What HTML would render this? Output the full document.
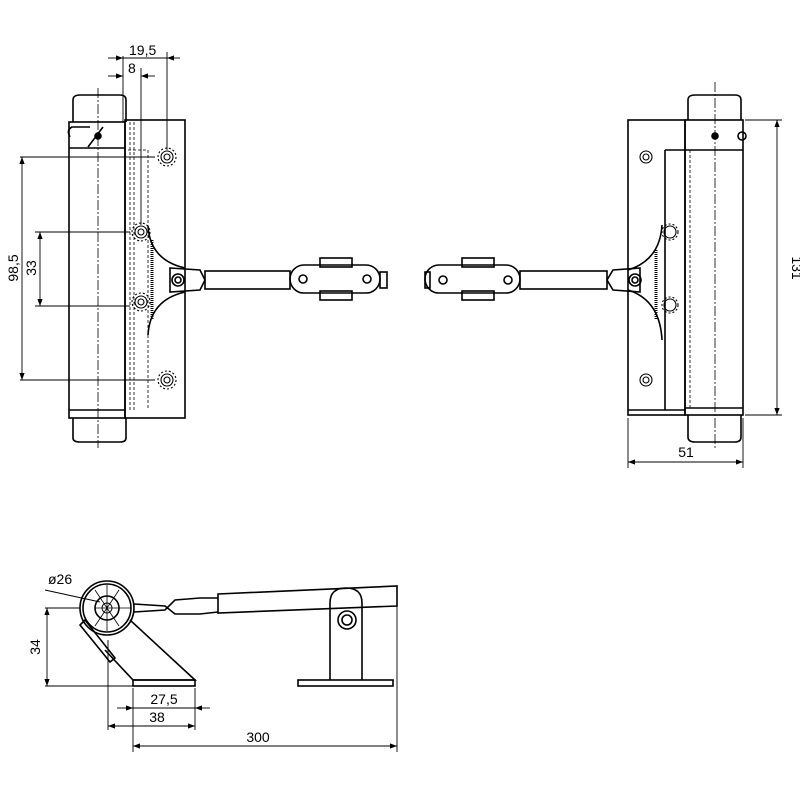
<!DOCTYPE html>
<html><head><style>body{margin:0;background:#fff}svg{display:block}text{font-family:"Liberation Sans",sans-serif;font-size:14px;fill:#000}</style></head><body>
<svg width="800" height="800" viewBox="0 0 800 800" xmlns="http://www.w3.org/2000/svg" fill="none" stroke="#000" stroke-width="1">
<defs>
<marker id="a" markerWidth="8" markerHeight="6" refX="8" refY="3" orient="auto-start-reverse"><path d="M0,0 L8,3 L0,6z" fill="#000" stroke="none"/></marker>
</defs>
<!-- LEFT VIEW -->
<g stroke-width="1.6">
<path d="M73,122 V100 Q73,95 80,95 H120 Q126,95 126,100 V122"/>
<path d="M73,418 V438 Q73,442 80,442 H120 Q126,442 126,438 V418"/>
<rect x="69" y="122" width="56" height="296"/>
<rect x="125" y="120" width="60" height="298"/>
<line x1="69" y1="148" x2="125" y2="148"/>
<line x1="69" y1="410" x2="125" y2="410"/>
<path d="M148,226 Q150,260 185,268 M148,335 Q150,300 185,292"/>
<path d="M170,268 L200,270 L205,280 L200,290 L170,292 Z"/>
<rect x="205" y="271" width="85" height="18"/>
<rect x="290" y="265" width="90" height="28" rx="14"/>
<rect x="320" y="258" width="32" height="9"/><rect x="320" y="291" width="32" height="9"/>
<rect x="380" y="272" width="7" height="16"/>
<circle cx="178" cy="280" r="6"/><circle cx="178" cy="280" r="3"/>
<circle cx="303" cy="279" r="4"/><circle cx="367" cy="279" r="4"/>
<path d="M70,137 Q66,130 72,127 L90,127 M88,147 L103,127"/>
<circle cx="98" cy="136" r="3" fill="#000"/>
</g>
<g stroke-width="1.1">
<circle cx="167" cy="157" r="6"/><circle cx="167" cy="157" r="3"/><circle cx="167" cy="157" r="9" stroke-dasharray="2,2"/>
<circle cx="141" cy="232" r="6"/><circle cx="141" cy="232" r="3"/><circle cx="141" cy="232" r="9" stroke-dasharray="2,2"/>
<circle cx="141" cy="302" r="6"/><circle cx="141" cy="302" r="3"/><circle cx="141" cy="302" r="9" stroke-dasharray="2,2"/>
<circle cx="167" cy="380" r="6"/><circle cx="167" cy="380" r="3"/><circle cx="167" cy="380" r="9" stroke-dasharray="2,2"/>
<line x1="98" y1="88" x2="98" y2="448" stroke-dasharray="10,2,2,2" stroke-width="0.8"/>
<path d="M130,122 V410 M134,122 V410 M148,150 V410 M128,150 H148" stroke-dasharray="3,2" stroke-width="0.8"/>
<path d="M152,240 V320" stroke-width="3" stroke-dasharray="1,1"/>
</g>
<g stroke-width="0.9">
<line x1="123" y1="56" x2="123" y2="122"/><line x1="141" y1="68" x2="141" y2="225"/><line x1="167" y1="52" x2="167" y2="150"/>
<line x1="108" y1="58" x2="123" y2="58" marker-end="url(#a)"/><line x1="123" y1="58" x2="167" y2="58"/><line x1="180" y1="58" x2="167" y2="58" marker-end="url(#a)"/>
<line x1="108" y1="76" x2="123" y2="76" marker-end="url(#a)"/><line x1="155" y1="76" x2="141" y2="76" marker-end="url(#a)"/>
<line x1="20" y1="157" x2="155" y2="157"/><line x1="20" y1="380" x2="155" y2="380"/>
<line x1="35" y1="232" x2="130" y2="232"/><line x1="35" y1="306" x2="130" y2="306"/>
<line x1="22" y1="157" x2="22" y2="380" marker-start="url(#a)" marker-end="url(#a)"/>
<line x1="40" y1="232" x2="40" y2="306" marker-start="url(#a)" marker-end="url(#a)"/>
</g>
<text x="129" y="55" stroke="none">19,5</text>
<text x="128" y="73" stroke="none">8</text>
<text x="18" y="268" stroke="none" text-anchor="middle" transform="rotate(-90 18 268)">98,5</text>
<text x="36" y="268" stroke="none" text-anchor="middle" transform="rotate(-90 36 268)">33</text>
<!-- RIGHT VIEW -->
<g stroke-width="1.6">
<path d="M688,120 V100 Q688,95 695,95 H735 Q741,95 741,100 V120"/>
<path d="M688,415 V437 Q688,442 695,442 H735 Q741,442 741,437 V415"/>
<rect x="628" y="120" width="57" height="295"/>
<rect x="685" y="120" width="58" height="295"/>
<line x1="685" y1="150" x2="743" y2="150"/><line x1="685" y1="408" x2="743" y2="408"/>
<path d="M665,150 H685 M665,150 V410 M628,410 H685"/>
<path d="M662,225 Q660,260 628,270 M662,340 Q660,300 628,290"/>
<path d="M640,268 L613,270 L607,280 L613,290 L640,292 Z"/>
<rect x="520" y="271" width="87" height="18"/>
<rect x="425" y="265" width="95" height="28" rx="14"/>
<rect x="462" y="258" width="32" height="9"/><rect x="462" y="291" width="32" height="9"/>
<rect x="425" y="272" width="5" height="16"/>
<circle cx="635" cy="280" r="6"/><circle cx="635" cy="280" r="3"/>
<circle cx="443" cy="280" r="4"/><circle cx="508" cy="280" r="4"/>
<circle cx="715" cy="136" r="3" fill="#000"/><circle cx="742" cy="136" r="4"/>
</g>
<g stroke-width="1.1">
<circle cx="646" cy="157" r="6"/><circle cx="646" cy="157" r="3"/>
<circle cx="670" cy="232" r="6"/><circle cx="670" cy="232" r="8" stroke-dasharray="2,2"/>
<circle cx="670" cy="305" r="6"/><circle cx="670" cy="305" r="8" stroke-dasharray="2,2"/>
<circle cx="646" cy="380" r="6"/><circle cx="646" cy="380" r="3"/>
<line x1="715" y1="82" x2="715" y2="450" stroke-dasharray="10,2,2,2" stroke-width="0.8"/>
<path d="M690,150 V408" stroke-dasharray="3,2" stroke-width="0.8"/>
<path d="M656,250 V320" stroke-width="3" stroke-dasharray="1,1"/>
</g>
<g stroke-width="0.9">
<line x1="745" y1="120" x2="782" y2="120"/><line x1="745" y1="415" x2="782" y2="415"/>
<line x1="777" y1="120" x2="777" y2="415" marker-start="url(#a)" marker-end="url(#a)"/>
<line x1="628" y1="418" x2="628" y2="468"/><line x1="743" y1="418" x2="743" y2="468"/>
<line x1="628" y1="462" x2="743" y2="462" marker-start="url(#a)" marker-end="url(#a)"/>
</g>
<text x="792" y="268" stroke="none" text-anchor="middle" transform="rotate(90 792 268)">131</text>
<text x="686" y="457" stroke="none" text-anchor="middle">51</text>
<!-- BOTTOM VIEW -->
<g stroke-width="1.6">
<circle cx="107" cy="608" r="27"/><circle cx="107" cy="608" r="24"/>
<circle cx="107" cy="608" r="12"/>
<path d="M130,620 L195,680 H133 L105,650"/>
<rect x="133" y="680" width="62" height="6"/>
<path d="M80,625 L110,662 L115,658 L85,620 Z"/>
<path d="M134,612 L165,610 L175,600 L200,598 L218,598 M134,604 L165,606 L175,614 L200,614 L218,612"/>
<path d="M218,594 L397,586 L397,606 L218,613 Z"/>
<path d="M330,680 V603 Q330,588 346,588 Q362,588 362,603 V680"/>
<circle cx="347" cy="620" r="9"/><circle cx="347" cy="620" r="5"/>
<rect x="298" y="680" width="95" height="6"/>
</g>
<g stroke-width="0.9">
<path d="M107,585 V631 M95,608 H131 M95,590 L119,626 M119,590 L95,626" stroke-width="0.8"/>
<circle cx="107" cy="608" r="5"/>
<line x1="45" y1="590" x2="100" y2="602"/>
<line x1="45" y1="608" x2="80" y2="608"/><line x1="45" y1="686" x2="133" y2="686"/>
<line x1="47" y1="608" x2="47" y2="686" marker-start="url(#a)" marker-end="url(#a)"/>
<line x1="108" y1="640" x2="108" y2="730"/><line x1="133" y1="688" x2="133" y2="752"/>
<line x1="195" y1="688" x2="195" y2="730"/><line x1="397" y1="590" x2="397" y2="752"/>
<line x1="117" y1="708" x2="133" y2="708" marker-end="url(#a)"/><line x1="210" y1="708" x2="195" y2="708" marker-end="url(#a)"/><line x1="133" y1="708" x2="195" y2="708"/>
<line x1="108" y1="726" x2="195" y2="726" marker-start="url(#a)" marker-end="url(#a)"/>
<line x1="133" y1="746" x2="397" y2="746" marker-start="url(#a)" marker-end="url(#a)"/>
</g>
<text x="48" y="584" stroke="none">ø26</text>
<text x="40" y="647" stroke="none" text-anchor="middle" transform="rotate(-90 40 647)">34</text>
<text x="164" y="704" stroke="none" text-anchor="middle">27,5</text>
<text x="157" y="722" stroke="none" text-anchor="middle">38</text>
<text x="258" y="742" stroke="none" text-anchor="middle">300</text>
</svg>
</body></html>
